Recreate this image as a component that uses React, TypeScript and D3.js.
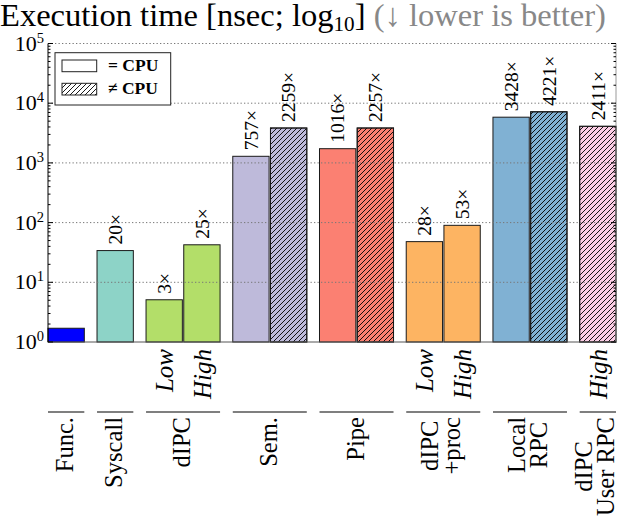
import React, { useEffect, useRef } from "react";
import * as d3 from "d3";

// groups along the x axis
const groupNames = [
  ["Func."],
  ["Syscall"],
  ["dIPC"],
  ["Sem."],
  ["Pipe"],
  ["dIPC", "+proc"],
  ["Local", "RPC"],
  ["dIPC", "User RPC"],
];
const groupColors = ["#0000ff", "#8dd3c7", "#b3de69", "#bebada", "#fb8072", "#fdb462", "#80b1d3", "#fccde5"];

// one entry per bar
const barGroup = [0, 1, 2, 2, 3, 3, 4, 4, 5, 5, 6, 6, 7];
const barValues = [1.7, 34, 5.1, 42.5, 1290, 3840, 1730, 3840, 48, 90, 5830, 7180, 4100];
const barLabels = ["", "20×", "3×", "25×", "757×", "2259×", "1016×", "2257×", "28×", "53×", "3428×", "4221×", "2411×"];
const barHatched = [false, false, false, false, false, true, false, true, false, false, false, true, true];
const barModes = ["", "", "Low", "High", "", "", "", "", "Low", "High", "", "", "High"];

const yExponents = [0, 1, 2, 3, 4, 5];

const W = 618;
const H = 518;
const FONT = "'Liberation Serif', 'DejaVu Serif', serif";

const App = () => {
  const svgRef = useRef<SVGSVGElement>(null);

  useEffect(() => {
    const svg = d3.select(svgRef.current);
    svg.selectAll("*").remove();

    const measure = (s: string, size: number, weight = "normal", style = "normal") => {
      const t = svg
        .append("text")
        .attr("font-family", FONT)
        .attr("font-size", size)
        .attr("font-weight", weight)
        .attr("font-style", style)
        .text(s);
      const len = (t.node() as SVGTextElement).getComputedTextLength();
      t.remove();
      return len;
    };
    // pick a font size so that a sample string gets the width seen in the reference
    const fit = (sample: string, width: number, weight = "normal", style = "normal") =>
      (100 * width) / measure(sample, 100, weight, style);

    const valueSize = fit("2259×", 50);
    const modeSize = fit("High", 50, "normal", "italic");
    const groupSize = fit("Syscall", 71);
    const tickSize = fit("10", 22);
    const legendSize = fit("CPU", 36, "bold");

    const left = 48;
    const right = 616;
    const top = 43.5;
    const bottom = 342;

    const defs = svg.append("defs");
    const pat = defs
      .append("pattern")
      .attr("id", "hatch")
      .attr("patternUnits", "userSpaceOnUse")
      .attr("width", 5)
      .attr("height", 5);
    pat
      .append("path")
      .attr("d", "M-1,1 l2,-2 M0,5 l5,-5 M4,6 l2,-2")
      .attr("stroke", "#000")
      .attr("stroke-width", 0.9);

    const y = d3.scaleLog().domain([1, 1e5]).range([bottom, top]);
    const gap = 0.3;
    const bw = 0.963;
    const slots = barGroup.map((g, i) => i + g * gap);
    const x = d3
      .scaleLinear()
      .domain([0, (d3.max(slots) as number) + bw])
      .range([left, right]);

    // bars
    const bars = svg.append("g");
    barValues.forEach((v, i) => {
      const x0 = x(slots[i]);
      const w = x(slots[i] + bw) - x0;
      bars
        .append("rect")
        .attr("x", x0)
        .attr("y", y(v))
        .attr("width", w)
        .attr("height", y(1) - y(v))
        .attr("fill", groupColors[barGroup[i]])
        .attr("stroke", "#1a1a1a")
        .attr("stroke-width", 1);
      if (barHatched[i]) {
        bars
          .append("rect")
          .attr("x", x0)
          .attr("y", y(v))
          .attr("width", w)
          .attr("height", y(1) - y(v))
          .attr("fill", "url(#hatch)")
          .attr("stroke", "#1a1a1a")
          .attr("stroke-width", 1);
      }
    });

    // grid (drawn over the bars)
    svg
      .append("g")
      .selectAll("line")
      .data(yExponents.slice(1))
      .join("line")
      .attr("x1", left)
      .attr("x2", right)
      .attr("y1", (d) => y(Math.pow(10, d)))
      .attr("y2", (d) => y(Math.pow(10, d)))
      .attr("stroke", "#777")
      .attr("stroke-width", 1)
      .attr("stroke-dasharray", "1.3,2.2");

    // frame
    svg
      .append("line")
      .attr("x1", left)
      .attr("x2", right)
      .attr("y1", bottom)
      .attr("y2", bottom)
      .attr("stroke", "#555");
    svg
      .append("line")
      .attr("x1", right)
      .attr("x2", right)
      .attr("y1", top)
      .attr("y2", bottom)
      .attr("stroke", "#999");
    svg
      .append("line")
      .attr("x1", left)
      .attr("x2", left)
      .attr("y1", top)
      .attr("y2", bottom)
      .attr("stroke", "#000");

    // ticks
    const minor: number[] = [];
    yExponents.slice(0, -1).forEach((e) => {
      for (let m = 2; m < 10; m++) minor.push(m * Math.pow(10, e));
    });
    const tg = svg.append("g").attr("stroke", "#000").attr("stroke-width", 1);
    minor.forEach((v) => {
      tg.append("line").attr("x1", left).attr("x2", left + 2.5).attr("y1", y(v)).attr("y2", y(v));
      tg.append("line").attr("x1", right).attr("x2", right - 2.5).attr("y1", y(v)).attr("y2", y(v));
    });
    yExponents.forEach((e) => {
      const yy = y(Math.pow(10, e));
      tg.append("line").attr("x1", left).attr("x2", left + 5).attr("y1", yy).attr("y2", yy);
      tg.append("line").attr("x1", right).attr("x2", right - 5).attr("y1", yy).attr("y2", yy);
    });

    // tick labels
    yExponents.forEach((e) => {
      const t = svg
        .append("text")
        .attr("x", 44)
        .attr("y", y(Math.pow(10, e)) + 7)
        .attr("text-anchor", "end")
        .attr("font-family", FONT)
        .attr("font-size", tickSize)
        .attr("fill", "#000");
      t.append("tspan").text("10");
      t.append("tspan").attr("dy", -8).attr("font-size", tickSize * 0.66).text(String(e));
    });

    // value labels above bars
    barValues.forEach((v, i) => {
      if (!barLabels[i]) return;
      const cx = x(slots[i] + bw / 2);
      svg
        .append("text")
        .attr("transform", `translate(${cx},${y(v) - 6}) rotate(-90)`)
        .attr("dy", "0.35em")
        .attr("text-anchor", "start")
        .attr("font-family", FONT)
        .attr("font-size", valueSize)
        .attr("fill", "#000")
        .text(barLabels[i]);
    });

    // Low / High labels
    barModes.forEach((m, i) => {
      if (!m) return;
      const cx = x(slots[i] + bw / 2);
      svg
        .append("text")
        .attr("transform", `translate(${cx},${349}) rotate(-90)`)
        .attr("dy", "0.35em")
        .attr("text-anchor", "end")
        .attr("font-family", FONT)
        .attr("font-style", "italic")
        .attr("font-size", modeSize)
        .attr("fill", "#000")
        .text(m);
    });

    // group underlines and names
    groupNames.forEach((lines, g) => {
      const idx = barGroup.map((bg, i) => (bg === g ? i : -1)).filter((i) => i >= 0);
      const x0 = x(slots[idx[0]]);
      const x1 = x(slots[idx[idx.length - 1]] + bw);
      svg
        .append("line")
        .attr("x1", x0)
        .attr("x2", x1)
        .attr("y1", 412)
        .attr("y2", 412)
        .attr("stroke", "#000")
        .attr("stroke-width", 1.2);
      const cx = (x0 + x1) / 2;
      const texts = lines.map((ln) =>
        svg
          .append("text")
          .attr("dy", "0.35em")
          .attr("text-anchor", "middle")
          .attr("font-family", FONT)
          .attr("font-size", groupSize)
          .attr("fill", "#000")
          .text(ln)
      );
      const maxLen = d3.max(texts, (t) => (t.node() as SVGTextElement).getComputedTextLength()) as number;
      const cy = 417 + maxLen / 2;
      texts.forEach((t, j) => {
        const lx = cx - (lines.length > 1 ? 3 : 1.5) + (j - (lines.length - 1) / 2) * 22;
        t.attr("transform", `translate(${lx},${cy}) rotate(-90)`);
      });
    });

    // title: separate pieces laid out side by side, scaled to the reference width
    const titleParts = [
      { s: "Execution time [nsec; log", k: 1, dy: 0, fill: "#000" },
      { s: "10", k: 0.65, dy: 5, fill: "#000" },
      { s: "]", k: 1, dy: 0, fill: "#000" },
      { s: " (↓ lower is better)", k: 1, dy: 0, fill: "#888" },
    ];
    const rawLen = d3.sum(titleParts, (p) => measure(p.s, 24 * p.k));
    const titleSize = (24 * 598) / rawLen;
    let tx = 0;
    titleParts.forEach((p) => {
      const fs = titleSize * p.k;
      svg
        .append("text")
        .attr("x", tx)
        .attr("y", 26 + p.dy)
        .attr("font-family", FONT)
        .attr("font-size", fs)
        .attr("fill", p.fill)
        .style("white-space", "pre")
        .text(p.s);
      tx += measure(p.s, fs);
    });

    // legend
    const lg = svg.append("g");
    lg.append("rect")
      .attr("x", 55)
      .attr("y", 52.7)
      .attr("width", 115.7)
      .attr("height", 52.3)
      .attr("fill", "#fff")
      .attr("stroke", "#222");
    [false, true].forEach((h, k) => {
      const py = 60 + k * 23.3;
      lg.append("rect")
        .attr("x", 62)
        .attr("y", py)
        .attr("width", 34.7)
        .attr("height", 11.7)
        .attr("fill", h ? "url(#hatch)" : "#fff")
        .attr("stroke", "#222");
      lg.append("text")
        .attr("x", 108)
        .attr("y", py + 11)
        .attr("font-family", FONT)
        .attr("font-weight", "bold")
        .attr("font-size", legendSize)
        .attr("fill", "#000")
        .text(h ? "≠ CPU" : "= CPU");
    });
  }, []);

  return (
    <svg
      ref={svgRef}
      width={W}
      height={H}
      style={{ position: "absolute", left: 0, top: 0, background: "#fff" }}
    />
  );
};

export default App;
